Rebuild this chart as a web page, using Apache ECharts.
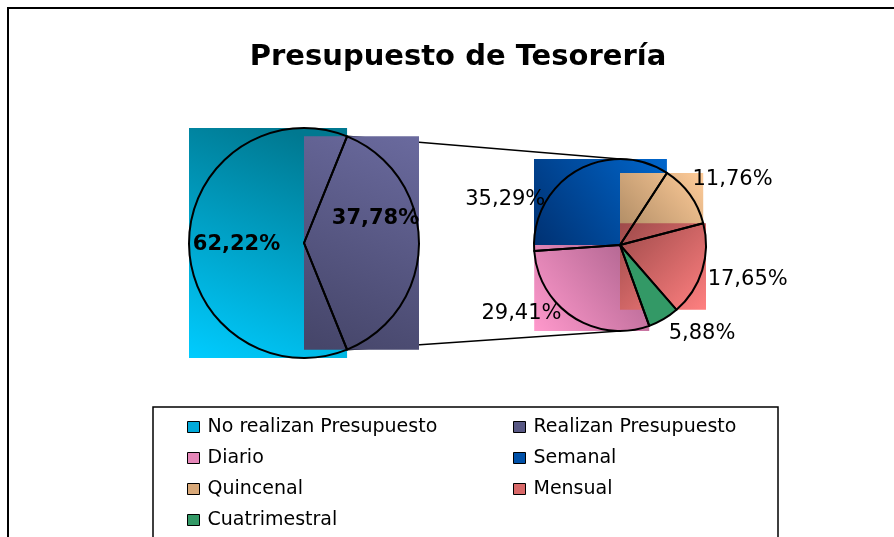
<!DOCTYPE html>
<html>
<head>
<meta charset="utf-8">
<script src="https://cdn.jsdelivr.net/npm/echarts@6/dist/echarts.min.js"></script>
<style>
  html, body { margin: 0; padding: 0; background: #fff; }
  #chart { width: 894px; height: 537px; }
</style>
</head>
<body>
<div id="chart"></div>
<script>
// data
const mainNames = ['Realizan Presupuesto', 'No realizan Presupuesto']
const mainValues = [37.78, 62.22]
const subNames = ['Semanal', 'Quincenal', 'Mensual', 'Cuatrimestral', 'Diario']
const subValues = [35.29, 11.76, 17.65, 5.88, 29.41]
const legendLeft = ['No realizan Presupuesto', 'Diario', 'Quincenal', 'Cuatrimestral']
const legendRight = ['Realizan Presupuesto', 'Semanal', 'Mensual']

const FONT = 'DejaVu Sans, Liberation Sans, Arial, sans-serif'
const C1 = [304, 243], R1 = 115
const C2 = [620, 245], R2 = 86

// gradient per slice [from, to, x, y, x2, y2]
const fills = {
  'No realizan Presupuesto': ['#00CCFF', '#007890', 0, 1, 0.6, 0],
  'Realizan Presupuesto': ['#46466A', '#6A6A9E', 0.2, 1, 1, 0],
  'Semanal': ['#003070', '#0066CC', 0, 1, 1, 0],
  'Quincenal': ['#A88660', '#FFCC99', 0, 1, 1, 0],
  'Mensual': ['#9E4A4A', '#FF8080', 0, 0, 1, 1],
  'Diario': ['#A8608A', '#FF99CC', 1, 0, 0, 1],
}
const legendColors = {
  'No realizan Presupuesto': '#00A8D8',
  'Realizan Presupuesto': '#585884',
  'Diario': '#E586B8',
  'Semanal': '#0050A8',
  'Quincenal': '#D8A878',
  'Mensual': '#D86868',
  'Cuatrimestral': '#339966',
}
const solid = { 'Cuatrimestral': '#339966' }

const sum = arr => arr.reduce((a, b) => a + b, 0)
const mainStart = mainValues[0] / sum(mainValues) * 180
const subStart = 184

// angles of each slice, going clockwise from start
function sliceAngles(values, start) {
  const total = sum(values)
  let a = start
  return values.map(v => {
    const a0 = a
    a -= v / total * 360
    return [a0, a]
  })
}

function pointAt(c, r, deg) {
  const t = deg * Math.PI / 180
  return [c[0] + r * Math.cos(t), c[1] - r * Math.sin(t)]
}

function sliceBox(c, r, a0, a1) {
  const pts = [c, pointAt(c, r, a0), pointAt(c, r, a1)]
  for (let k = Math.ceil(a1 / 90) * 90; k < a0; k += 90) pts.push(pointAt(c, r, k))
  const xs = pts.map(p => p[0]), ys = pts.map(p => p[1])
  const x = Math.min(...xs), y = Math.min(...ys)
  return { x, y, width: Math.max(...xs) - x, height: Math.max(...ys) - y }
}

function gradRect(name, box, z) {
  const f = fills[name]
  return {
    type: 'rect', z, silent: true,
    shape: box,
    style: {
      fill: new echarts.graphic.LinearGradient(f[2], f[3], f[4], f[5], [
        { offset: 0, color: f[0] }, { offset: 1, color: f[1] }
      ])
    }
  }
}

const mainAngles = sliceAngles(mainValues, mainStart)
const subAngles = sliceAngles(subValues, subStart)

const rects = []
;['No realizan Presupuesto', 'Realizan Presupuesto'].forEach((n, i) => {
  const a = mainAngles[mainNames.indexOf(n)]
  rects.push(gradRect(n, sliceBox(C1, R1, a[0], a[1]), 2 + i * 0.01))
})
;['Semanal', 'Diario', 'Quincenal', 'Mensual'].forEach((n, i) => {
  const a = subAngles[subNames.indexOf(n)]
  rects.push(gradRect(n, sliceBox(C2, R2, a[0], a[1]), 2 + i * 0.01))
})

// connector lines from the split points of the first pie to the top and bottom of the second
const topA = pointAt(C1, R1, mainStart), botA = pointAt(C1, R1, -mainStart)
const connectors = [
  [topA, [C2[0], C2[1] - R2]],
  [botA, [C2[0], C2[1] + R2]],
].map(([p, q]) => ({
  type: 'line', z: 1, silent: true,
  shape: { x1: p[0], y1: p[1], x2: q[0], y2: q[1] },
  style: { stroke: '#000', lineWidth: 1.5 }
}))

const pct = p => p.value.toFixed(2).replace('.', ',') + '%'
const mainOffsets = [[11, -24], [-7, 2]]
const subOffsets = [[-20, 39], [-12, -8], [-11, 6], [-6, 4], [0, -14]]

function legendData(names) {
  return names.map(n => ({ name: n, itemStyle: { color: legendColors[n] } }))
}
const legendBase = {
  orient: 'vertical',
  top: 417,
  height: 130,
  padding: 0,
  icon: 'rect',
  itemWidth: 12,
  itemHeight: 11,
  itemGap: 11,
  selectedMode: false,
  itemStyle: { borderColor: '#000', borderWidth: 1 },
  textStyle: { fontFamily: FONT, fontSize: 19, lineHeight: 20, color: '#000', padding: [0, 0, 0, 3] },
}

const option = {
  backgroundColor: '#fff',
  animation: false,
  title: {
    text: 'Presupuesto de Tesorería',
    left: 453, top: 38, textAlign: 'center',
    textStyle: { fontFamily: FONT, fontSize: 29, fontWeight: 'bold', color: '#000' }
  },
  legend: [
    Object.assign({}, legendBase, { left: 187, data: legendData(legendLeft) }),
    Object.assign({}, legendBase, { left: 513, data: legendData(legendRight) }),
  ],
  graphic: [
    { type: 'rect', z: 0, silent: true, shape: { x: 8, y: 8, width: 1000, height: 1000 },
      style: { fill: '#fff', stroke: '#000', lineWidth: 2 } },
    { type: 'rect', z: 0, silent: true, shape: { x: 153, y: 407, width: 625, height: 200 },
      style: { fill: '#fff', stroke: '#000', lineWidth: 1.5 } },
    ...connectors,
    ...rects,
  ],
  series: [
    {
      type: 'pie', z: 5,
      center: C1, radius: R1,
      startAngle: mainStart, clockwise: true,
      avoidLabelOverlap: false,
      silent: true,
      itemStyle: { color: 'rgba(0,0,0,0)', borderColor: '#000', borderWidth: 2 },
      label: {
        position: 'inside', formatter: pct,
        fontFamily: FONT, fontSize: 21, fontWeight: 'bold', color: '#000'
      },
      labelLayout: p => ({ dx: mainOffsets[p.dataIndex][0], dy: mainOffsets[p.dataIndex][1] }),
      data: mainNames.map((n, i) => ({ name: n, value: mainValues[i] }))
    },
    {
      type: 'pie', z: 5,
      center: C2, radius: R2,
      startAngle: subStart, clockwise: true,
      avoidLabelOverlap: false,
      silent: true,
      itemStyle: { color: 'rgba(0,0,0,0)', borderColor: '#000', borderWidth: 2 },
      label: {
        position: 'outside', formatter: pct,
        fontFamily: FONT, fontSize: 21, color: '#000'
      },
      labelLine: { show: false, length: 12, length2: 0 },
      labelLayout: p => ({ dx: subOffsets[p.dataIndex][0], dy: subOffsets[p.dataIndex][1] }),
      data: subNames.map((n, i) => ({
        name: n, value: subValues[i],
        itemStyle: solid[n] ? { color: solid[n] } : undefined
      }))
    }
  ]
}

echarts.init(document.getElementById('chart')).setOption(option)
</script>
</body>
</html>
